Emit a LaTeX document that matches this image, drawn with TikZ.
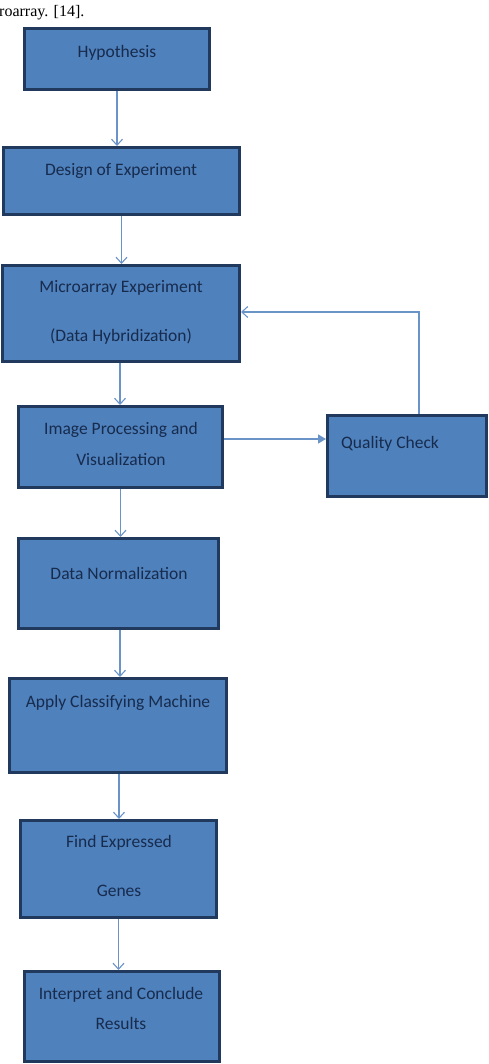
\documentclass[tikz,border=0pt]{standalone}
\usepackage{fontspec}
\setmainfont{Carlito}
\newfontfamily\serifrm{Liberation Serif}
\usetikzlibrary{arrows.meta}
\definecolor{boxfill}{HTML}{4F81BD}
\definecolor{boxline}{HTML}{22395E}
\definecolor{boxtext}{HTML}{172B4D}
\definecolor{conn}{HTML}{6A93C8}
\tikzset{
  box/.style={draw=boxline, fill=boxfill, line width=3pt, rectangle, inner sep=0pt},
  txt/.style={text=boxtext, font=\fontsize{17.5}{21}\selectfont, inner sep=0pt, align=center},
  conn/.style={draw=conn, line width=1.3pt, -{Straight Barb[length=6pt,width=11pt,line width=1.1pt]}},
  connf/.style={draw=conn, line width=1.3pt, -{Triangle[length=8pt,width=9pt]}}
}
\begin{document}
\begin{tikzpicture}[x=1pt,y=-1pt]
\useasboundingbox (0,0) rectangle (489,1064);
\node[anchor=base west, inner sep=0pt, font=\serifrm\fontsize{16}{19}\selectfont] (cap) at (-1,17) {roarray. [14].};
% boxes (outer edges given, line centre inset by 1.5)
\node[box, minimum width=185pt, minimum height=61pt] (h) at (117,59) {};
\node[box, minimum width=236pt, minimum height=67pt] (d) at (121.5,181) {};
\node[box, minimum width=237pt, minimum height=96pt] (m) at (121,313.5) {};
\node[box, minimum width=204pt, minimum height=81pt] (i) at (120.5,447) {};
\node[box, minimum width=159pt, minimum height=81pt] (q) at (407,456) {};
\node[box, minimum width=200pt, minimum height=90pt] (n) at (118.5,583.5) {};
\node[box, minimum width=217pt, minimum height=94pt] (a) at (118,725.5) {};
\node[box, minimum width=196pt, minimum height=97pt] (f) at (118.5,869) {};
\node[box, minimum width=195pt, minimum height=90pt] (r) at (122,1016.5) {};
% texts
\node[txt] (th) at (117,53) {Hypothesis};
\node[txt] (td) at (121,171) {Design of Experiment};
\node[txt] (tm1) at (121,288) {Microarray Experiment};
\node[txt] (tm2) at (121,337) {(Data Hybridization)};
\node[txt] (ti1) at (121,430) {Image Processing and};
\node[txt] (ti2) at (121,459) {Visualization};
\node[txt, anchor=west] (tq) at (341,444) {Quality Check};
\node[txt] (tn) at (119,573) {Data Normalization};
\node[txt] (ta) at (118,703) {Apply Classifying Machine};
\node[txt] (tf1) at (119,843) {Find Expressed};
\node[txt] (tf2) at (119,891) {Genes};
\node[txt] (tr1) at (121,995) {Interpret and Conclude};
\node[txt] (tr2) at (121,1023) {Results};
% connectors
\draw[conn] (h.south) -- (h.south |- d.north);
\draw[conn] (d.south) -- (d.south |- m.north);
\draw[conn] ([xshift=-1pt]m.south) -- ([xshift=-1pt]m.south |- i.north);
\draw[conn] (i.south) -- (i.south |- n.north);
\draw[conn] ([xshift=1.5pt]n.south) -- ([xshift=1.5pt]n.south |- a.north);
\draw[conn] ([xshift=1pt]a.south) -- ([xshift=1pt]a.south |- f.north);
\draw[conn] (f.south) -- (f.south |- r.north);
\coordinate (ie) at ([yshift=8pt]i.east);
\draw[connf] (ie) -- (ie -| q.west);
\coordinate (qt) at ([xshift=12pt]q.north);
\coordinate (mr) at ([yshift=1.5pt]m.east);
\draw[conn] (qt) |- (mr);
\end{tikzpicture}
\end{document}
